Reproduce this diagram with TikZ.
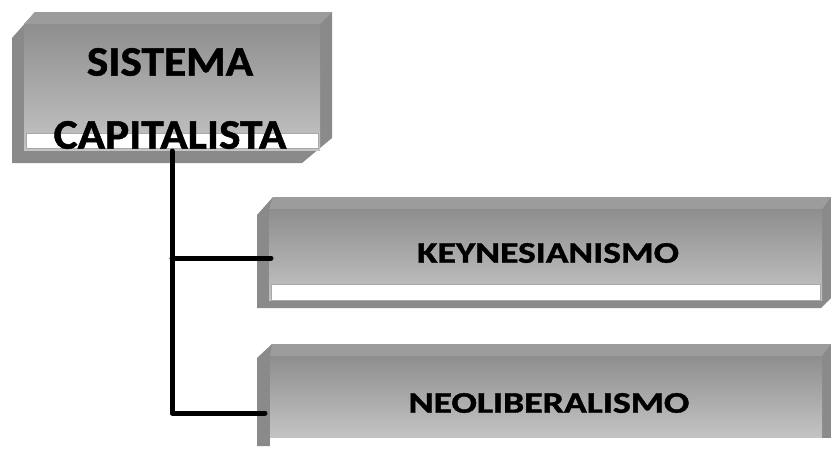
\documentclass[tikz,border=0pt]{standalone}
\usepackage{graphicx}
\usepackage{fontspec}
\setmainfont{Carlito}[BoldFeatures={FakeBold=1.2}]
\definecolor{sidegray}{HTML}{8A8A8A}
\definecolor{topgray}{HTML}{9C9C9C}
\definecolor{facetop}{HTML}{8E8E8E}
\definecolor{facebot}{HTML}{C4C4C4}
\definecolor{stripline}{HTML}{A8A8A8}
\tikzset{
  side/.style={fill=sidegray, draw=none},
  topface/.style={fill=topgray, draw=none},
  face/.style={top color=facetop, bottom color=facebot, draw=none},
  strip/.style={fill=white, draw=stripline, line width=1pt},
  bigtxt/.style={font=\bfseries\fontsize{42}{42}\selectfont, inner sep=0pt},
  smalltxt/.style={font=\bfseries\fontsize{30}{30}\selectfont, inner sep=0pt},
  conn/.style={line width=5pt, line cap=round, line join=round, black}
}
\begin{document}
\begin{tikzpicture}[x=1pt,y=-1pt]
\useasboundingbox (0,0) rectangle (831,450);
% ---- top box
\path[side] (35,12) -- (332,12) -- (332,138) -- (302,163) -- (12,163) -- (12,38) -- cycle;
\path[topface] (35,12) -- (332,12) -- (320,24) -- (24,24) -- cycle;
\shade[face] (24,24) rectangle (320,150);
\path[strip] (26,133) rectangle (318,148);
% ---- box 2
\path[side] (273,197) -- (831,197) -- (831,298) -- (821,308) -- (257,308) -- (257,215) -- cycle;
\path[topface] (273,197) -- (831,197) -- (822,209) -- (269,209) -- cycle;
\shade[face] (269,209) rectangle (822,300);
\path[strip] (271,284) rectangle (820,300);
% ---- box 3
\path[side] (272,344) -- (831,344) -- (831,446) -- (257,446) -- (257,358) -- cycle;
\path[topface] (272,344) -- (831,344) -- (822,356) -- (270,356) -- cycle;
\shade[face] (270,356) rectangle (822,438);
\fill[white] (270,438) rectangle (831,450);
% ---- texts
\node[bigtxt] (sis) at (170,62) {\scalebox{1.08}[1]{SISTEMA}};
\node[bigtxt] (cap) at (170,135) {\scalebox{1.08}[1]{CAPITALISTA}};
\node[smalltxt] (key) at (548,253) {\scalebox{1.25}[1]{KEYNESIANISMO}};
\node[smalltxt] (neo) at (549,403) {\scalebox{1.26}[1]{NEOLIBERALISMO}};
% ---- connectors
\coordinate (t0) at (172,151);
\coordinate (j1) at (172,258);
\coordinate (j2) at (172,413);
\coordinate (k1) at (271,258);
\coordinate (n1) at (265,413);
\draw[conn] (t0) -- (j2) -- (n1);
\draw[conn] (j1) -- (k1);
\end{tikzpicture}
\end{document}
